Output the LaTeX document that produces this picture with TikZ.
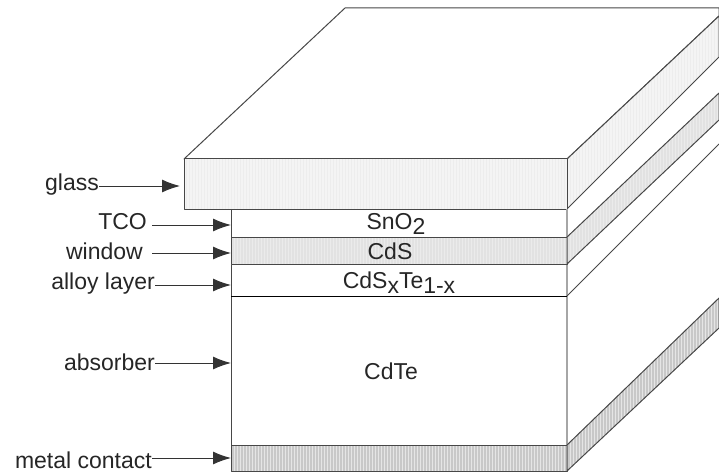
\documentclass[tikz,border=0pt]{standalone}
\usepackage{fontspec}
\setmainfont{Liberation Sans}
\usetikzlibrary{arrows.meta, patterns}
\definecolor{glassgray}{RGB}{244,244,244}
\definecolor{windowgray}{RGB}{226,226,226}
\definecolor{metalgray}{RGB}{200,200,200}
\tikzset{
  edge/.style={draw=black!72, line width=1pt, line join=round},
  glasslayer/.style={edge, pattern=vertical lines, pattern color=black!7, preaction={fill=glassgray}},
  windowlayer/.style={edge, pattern=vertical lines, pattern color=black!8, preaction={fill=windowgray}},
  metallayer/.style={edge, pattern=vertical lines, pattern color=black!10, preaction={fill=metalgray}},
  tag/.style={font=\fontsize{23}{25}\selectfont, text=black!85, inner sep=0pt, anchor=east},
  mat/.style={font=\fontsize{23}{25}\selectfont, text=black!85, inner sep=0pt},
  pointer/.style={-{Latex[length=18pt,width=13pt]}, draw=black!80, line width=1pt}
}
\newcommand{\sbs}[1]{\raisebox{-5pt}{#1}}
\begin{document}
\begin{tikzpicture}[x=1pt, y=-1pt]
  \useasboundingbox (0,0) rectangle (719,473);
  % glass
  \draw[edge, fill=white] (184,159) -- (345,8) -- (719,8) -- (719,16) -- (567,159) -- cycle;
  \draw[glasslayer] (567,159) -- (719,16) -- (719,57) -- (567,209) -- cycle;
  \draw[glasslayer] (184,159) rectangle (567,209);
  % stack front
  \draw[edge, line width=0.8pt] (231,209) -- (231,445);
  \draw[edge, line width=1.4pt, draw=black!35] (567,209) -- (567,445);
  \draw[windowlayer] (231,237) rectangle (567,264);
  \draw[windowlayer] (567,237) -- (719,93) -- (719,120) -- (567,264) -- cycle;
  \draw[edge, draw=black, line width=1pt] (231,296) -- (567,296);
  \draw[edge] (567,296) -- (719,144);
  \draw[metallayer] (231,445) rectangle (567,471);
  \draw[metallayer] (567,445) -- (719,298) -- (719,328) -- (567,471) -- cycle;
  % layer names
  \node[mat] (sno) at (396,224) {SnO\sbs{2}};
  \node[mat] (cds) at (390,251) {CdS};
  \node[mat] (alloy) at (399,283) {CdS\sbs{x}Te\sbs{1-x}};
  \node[mat] (cdte) at (391,371) {CdTe};
  % arrow ends
  \coordinate (tipglass) at (180,186);
  \coordinate (tiptco) at (231,225);
  \coordinate (tipwindow) at (231,253);
  \coordinate (tipalloy) at (231,285);
  \coordinate (tipabsorber) at (231,363);
  \coordinate (tipmetal) at (231,458);
  % labels
  \node[tag] (glass) at (99,185) {glass};
  \node[tag] (tco) at (147,222) {TCO};
  \node[tag] (window) at (143,251) {window};
  \node[tag] (alloylayer) at (155,284) {alloy layer};
  \node[tag] (absorber) at (155,362) {absorber};
  \node[tag] (metal) at (152,460) {metal contact};
  \draw[pointer] (glass.east |- tipglass) -- (tipglass);
  \draw[pointer] ([xshift=5pt]tco.east |- tiptco) -- (tiptco);
  \draw[pointer] ([xshift=9pt]window.east |- tipwindow) -- (tipwindow);
  \draw[pointer] (alloylayer.east |- tipalloy) -- (tipalloy);
  \draw[pointer] (absorber.east |- tipabsorber) -- (tipabsorber);
  \draw[pointer] (metal.east |- tipmetal) -- (tipmetal);
\end{tikzpicture}
\end{document}
